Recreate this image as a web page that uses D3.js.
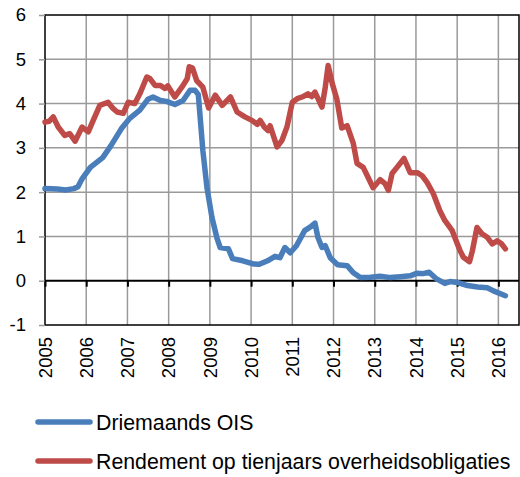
<!DOCTYPE html>
<html>
<head>
<meta charset="utf-8">
<script src="https://cdn.jsdelivr.net/npm/d3@7"></script>
<style>
  body { margin: 0; background: #fff; }
  svg { display: block; font-family: "Liberation Sans", Arial, sans-serif; }
</style>
</head>
<body>
<div class="chart"></div>
<script>
// Driemaands OIS (decimal years / percent)
var oisYears = [2005.0, 2005.3, 2005.5, 2005.7, 2005.8, 2005.9, 2006.1, 2006.4, 2006.6, 2006.85,
  2007.05, 2007.3, 2007.5, 2007.62, 2007.8, 2007.95, 2008.15, 2008.35, 2008.52, 2008.64,
  2008.72, 2008.83, 2008.93, 2009.05, 2009.17, 2009.25, 2009.45, 2009.55, 2009.8, 2010.05,
  2010.2, 2010.4, 2010.58, 2010.7, 2010.82, 2010.95, 2011.1, 2011.3, 2011.45, 2011.55,
  2011.62, 2011.72, 2011.8, 2011.92, 2012.1, 2012.33, 2012.48, 2012.65, 2012.9, 2013.13,
  2013.38, 2013.62, 2013.86, 2014.03, 2014.17, 2014.32, 2014.5, 2014.7, 2014.83, 2015.0,
  2015.25, 2015.5, 2015.73, 2015.88, 2016.17];
var oisValues = [2.08, 2.07, 2.05, 2.08, 2.12, 2.3, 2.56, 2.78, 3.05, 3.43,
  3.66, 3.85, 4.1, 4.15, 4.07, 4.05, 3.98, 4.07, 4.3, 4.3,
  4.2, 2.94, 2.1, 1.43, 0.97, 0.75, 0.72, 0.5, 0.45, 0.38,
  0.37, 0.45, 0.55, 0.52, 0.75, 0.63, 0.79, 1.13, 1.22, 1.3,
  0.98, 0.75, 0.79, 0.52, 0.36, 0.34, 0.18, 0.07, 0.08, 0.1,
  0.07, 0.09, 0.11, 0.17, 0.16, 0.19, 0.04, -0.06, -0.02, -0.04,
  -0.11, -0.14, -0.16, -0.23, -0.34];

// Rendement op tienjaars overheidsobligaties
var yieldYears = [2005.0, 2005.1, 2005.2, 2005.32, 2005.48, 2005.6, 2005.73, 2005.9, 2006.05, 2006.17,
  2006.33, 2006.53, 2006.65, 2006.75, 2006.9, 2007.02, 2007.18, 2007.3, 2007.47, 2007.55,
  2007.67, 2007.8, 2007.91, 2007.98, 2008.15, 2008.32, 2008.45, 2008.5, 2008.58, 2008.68,
  2008.83, 2008.97, 2009.13, 2009.3, 2009.5, 2009.66, 2009.85, 2010.02, 2010.15, 2010.22,
  2010.32, 2010.41, 2010.46, 2010.63, 2010.75, 2010.87, 2011.0, 2011.12, 2011.27, 2011.38,
  2011.47, 2011.55, 2011.72, 2011.8, 2011.87, 2011.97, 2012.08, 2012.2, 2012.33, 2012.48,
  2012.57, 2012.72, 2012.84, 2012.96, 2013.13, 2013.25, 2013.33, 2013.42, 2013.54, 2013.71,
  2013.86, 2014.03, 2014.15, 2014.27, 2014.42, 2014.58, 2014.7, 2014.88, 2015.0, 2015.07,
  2015.15, 2015.3, 2015.37, 2015.48, 2015.6, 2015.73, 2015.85, 2015.97, 2016.07, 2016.17];
var yieldValues = [3.58, 3.6, 3.7, 3.47, 3.28, 3.32, 3.15, 3.47, 3.36, 3.62,
  3.96, 4.03, 3.89, 3.81, 3.78, 4.03, 4.0, 4.22, 4.6, 4.56,
  4.41, 4.41, 4.34, 4.4, 4.15, 4.37, 4.56, 4.83, 4.8, 4.52,
  4.37, 3.9, 4.19, 3.96, 4.15, 3.81, 3.7, 3.62, 3.53, 3.62,
  3.47, 3.39, 3.5, 3.02, 3.17, 3.47, 4.03, 4.11, 4.16, 4.22,
  4.16, 4.26, 3.92, 4.37, 4.86, 4.45, 4.1, 3.45, 3.5, 3.1,
  2.65, 2.56, 2.33, 2.1, 2.28, 2.19, 2.04, 2.42, 2.56, 2.76,
  2.44, 2.44, 2.37, 2.22, 1.97, 1.58, 1.36, 1.13, 0.84, 0.68,
  0.53, 0.43, 0.68, 1.2, 1.06, 0.98, 0.83, 0.9, 0.84, 0.72];

var yearTicks = [2005, 2006, 2007, 2008, 2009, 2010, 2011, 2012, 2013, 2014, 2015, 2016];
var valueTicks = [-1, 0, 1, 2, 3, 4, 5, 6];
var seriesNames = ["Driemaands OIS", "Rendement op tienjaars overheidsobligaties"];
var seriesColors = ["#4A7EBB", "#BE4B48"];

var svgWidth = 520, svgHeight = 477;
var plot = { left: 45, right: 519, top: 15, bottom: 325 };

var svg = d3.select(".chart").append("svg")
  .attr("width", svgWidth)
  .attr("height", svgHeight);

var xScale = d3.scaleLinear().domain([2005, 2016.5]).range([plot.left, plot.right]);
var yScale = d3.scaleLinear().domain([-1, 6]).range([plot.bottom, plot.top]);

// vertical gridlines
svg.append("g").selectAll("line")
  .data(yearTicks.slice(1))
  .enter().append("line")
  .attr("x1", function(d) { return xScale(d); })
  .attr("x2", function(d) { return xScale(d); })
  .attr("y1", plot.top).attr("y2", plot.bottom)
  .attr("stroke", "#9a9a9a").attr("stroke-width", 1.5);

// horizontal gridlines
svg.append("g").selectAll("line")
  .data(valueTicks.filter(function(d) { return d !== 0 && d !== -1 && d !== 6; }))
  .enter().append("line")
  .attr("x1", plot.left).attr("x2", plot.right)
  .attr("y1", function(d) { return yScale(d); })
  .attr("y2", function(d) { return yScale(d); })
  .attr("stroke", "#9a9a9a").attr("stroke-width", 1.5);

// frame
svg.append("rect")
  .attr("x", plot.left).attr("y", plot.top)
  .attr("width", plot.right - plot.left).attr("height", plot.bottom - plot.top)
  .attr("fill", "none").attr("stroke", "#000").attr("stroke-width", 1.5);

// y axis
var leftAxis = d3.axisLeft(yScale).tickValues(valueTicks).tickSize(6).tickPadding(13)
  .tickFormat(function(d) { return String(d); });
var yAxisG = svg.append("g").attr("transform", "translate(" + plot.left + ",0)").call(leftAxis);
yAxisG.select(".domain").remove();
yAxisG.selectAll(".tick line").attr("stroke", "#9a9a9a").attr("stroke-width", 1.5);
yAxisG.selectAll("text").attr("font-size", 18.5).attr("fill", "#000")
  .attr("font-family", "Liberation Sans, Arial, sans-serif");

// zero line with year ticks
var zeroAxis = d3.axisBottom(xScale).tickValues(yearTicks).tickSize(6).tickFormat("");
var zeroG = svg.append("g").attr("transform", "translate(0," + yScale(0) + ")").call(zeroAxis);
zeroG.select(".domain").attr("d", "M" + plot.left + ",0H" + plot.right)
  .attr("stroke", "#000").attr("stroke-width", 2);
zeroG.selectAll(".tick line").attr("stroke", "#000").attr("stroke-width", 2);

// rotated year labels
svg.append("g").selectAll("text")
  .data(yearTicks)
  .enter().append("text")
  .attr("transform", function(d) { return "translate(" + xScale(d) + "," + 337 + ") rotate(-90)"; })
  .attr("text-anchor", "end")
  .attr("dy", "0.36em")
  .attr("font-size", 18.5)
  .attr("fill", "#000")
  .text(function(d) { return d; });

// series lines
var line = d3.line()
  .x(function(d) { return xScale(d[0]); })
  .y(function(d) { return yScale(d[1]); });

var series = [d3.zip(oisYears, oisValues), d3.zip(yieldYears, yieldValues)];

svg.append("g").selectAll("path")
  .data(series.slice().reverse())
  .enter().append("path")
  .attr("d", line)
  .attr("fill", "none")
  .attr("stroke", function(d, i) { return seriesColors[1 - i]; })
  .attr("stroke-width", 5.5)
  .attr("stroke-linejoin", "round")
  .attr("stroke-linecap", "round");

// legend
var legend = svg.append("g").selectAll("g")
  .data(seriesNames)
  .enter().append("g")
  .attr("transform", function(d, i) { return "translate(0," + (422 + i * 39) + ")"; });

legend.append("line")
  .attr("x1", 38).attr("x2", 90).attr("y1", 0).attr("y2", 0)
  .attr("stroke", function(d, i) { return seriesColors[i]; })
  .attr("stroke-width", 5.5)
  .attr("stroke-linecap", "round");

legend.append("text")
  .attr("x", 96).attr("y", 0).attr("dy", "0.36em")
  .attr("font-size", 21.3)
  .attr("fill", "#000")
  .text(function(d) { return d; });
</script>
</body>
</html>
